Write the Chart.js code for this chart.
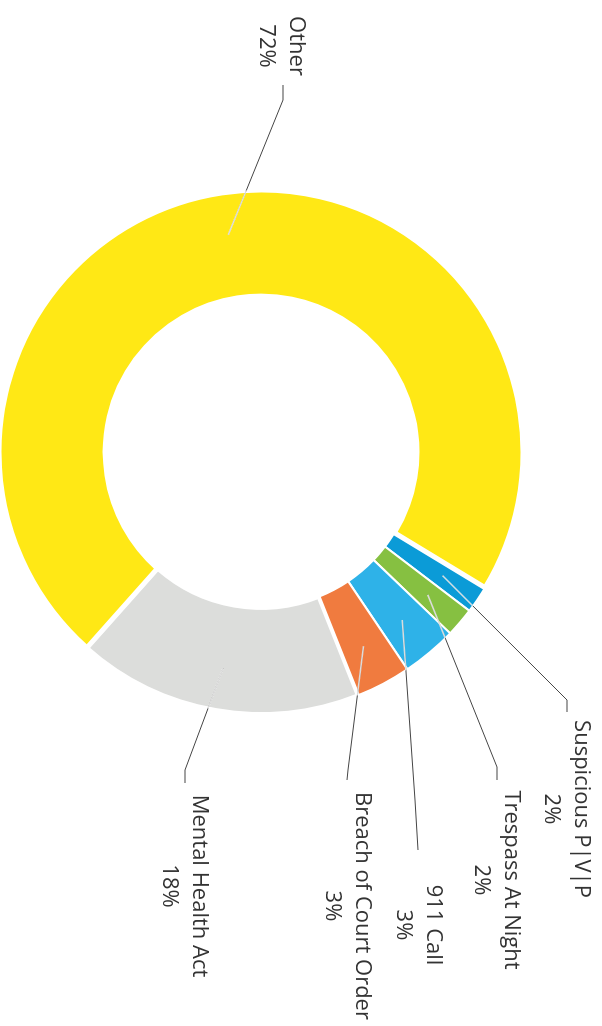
<!DOCTYPE html>
<html>
<head>
<meta charset="utf-8">
<title>Calls by type</title>
<script src="https://cdn.jsdelivr.net/npm/chart.js@4.4.1/dist/chart.umd.min.js"></script>
<style>
  html, body { margin: 0; padding: 0; background: #fff; overflow: hidden; }
  /* the chart is drawn upright and then turned a quarter turn to fit the page */
  #wrap {
    position: absolute; left: 0; top: 0;
    width: 1026px; height: 602px;
    transform-origin: 0 0;
    transform: translateX(602px) rotate(90deg);
  }
</style>
</head>
<body>
<div id="wrap"><canvas id="MyChart" width="1026" height="602"></canvas></div>
<script>
// data, in clockwise order
const categories = ['Suspicious P|V|P', 'Trespass At Night', '911 Call', 'Breach of Court Order', 'Mental Health Act', 'Other'];
const shares = [1.7, 1.8, 3.4, 3.4, 17.6, 72.1];
const sliceColors = ['#0B9BD7', '#86C041', '#2EB2E8', '#F07B3F', '#DCDDDB', '#FFE815'];

// where each label sits (unturned frame): text centre, line end and bend
const labelSpots = [
    { x: 809, y: 21,  ax: 712, ay: 35,  bx: 700, by: 35 },
    { x: 880, y: 91,  ax: 780, ay: 105, bx: 767, by: 105 },
    { x: 925, y: 169, ax: 850, ay: 184, bx: 800, by: 187 },
    { x: 906, y: 240, ax: 780, ay: 255, bx: 770, by: 254 },
    { x: 886, y: 403, ax: 783, ay: 417, bx: 770, by: 417 },
    { x: 46,  y: 306, ax: 85,  ay: 319, bx: 100, by: 319 }
];

const leaderLabels = {
    id: 'leaderLabels',
    afterDatasetsDraw(chart) {
        const ctx = chart.ctx;
        const arcs = chart.getDatasetMeta(0).data;
        arcs.forEach((arc, i) => {
            const spot = labelSpots[i];
            const mid = (arc.startAngle + arc.endAngle) / 2;
            const r = arc.innerRadius + (arc.outerRadius - arc.innerRadius) * 0.6;
            const px = arc.x + Math.cos(mid) * r;
            const py = arc.y + Math.sin(mid) * r;

            ctx.save();
            ctx.strokeStyle = '#454545';
            ctx.lineWidth = 1;
            ctx.beginPath();
            ctx.moveTo(px, py);
            ctx.lineTo(spot.bx, spot.by);
            ctx.lineTo(spot.ax, spot.ay);
            ctx.stroke();

            // the part of the line over the slice shows light
            ctx.beginPath();
            ctx.arc(arc.x, arc.y, arc.outerRadius, 0, Math.PI * 2);
            ctx.clip();
            ctx.strokeStyle = 'rgba(255,255,255,0.8)';
            ctx.lineWidth = 1.5;
            ctx.beginPath();
            ctx.moveTo(px, py);
            ctx.lineTo(spot.bx, spot.by);
            ctx.stroke();
            ctx.restore();

            ctx.save();
            ctx.fillStyle = '#333333';
            ctx.font = '22px "Open Sans"';
            ctx.textAlign = 'center';
            ctx.textBaseline = 'middle';
            ctx.fillText(categories[i], spot.x, spot.y);
            ctx.fillText(Math.round(shares[i]) + '%', spot.x, spot.y + 30);
            ctx.restore();
        });
    }
};

const ctx = document.getElementById('MyChart').getContext('2d');
const callChart = new Chart(ctx, {
    type: 'doughnut',
    data: {
        labels: categories,
        datasets: [{
            data: shares,
            backgroundColor: sliceColors,
            borderColor: '#ffffff',
            borderWidth: [2, 2, 2, 2, 4, 5]
        }]
    },
    options: {
        responsive: false,
        animation: false,
        events: [],
        rotation: 31.2,
        radius: 262,
        cutout: '59.5%',
        layout: { padding: { left: 202, right: 324, top: 91, bottom: 11 } },
        plugins: {
            legend: { display: false },
            tooltip: { enabled: false }
        }
    },
    plugins: [leaderLabels]
});
</script>
</body>
</html>
